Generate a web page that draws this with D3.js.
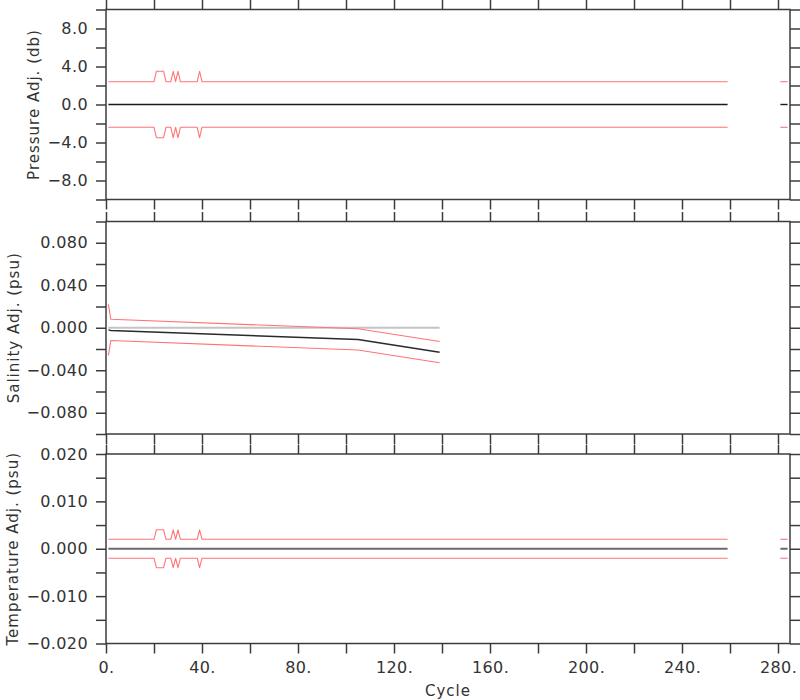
<!DOCTYPE html>
<html>
<head>
<meta charset="utf-8">
<script src="https://cdn.jsdelivr.net/npm/d3@7"></script>
<style>
  body { margin: 0; background: #fff; }
  svg { display: block; }
</style>
</head>
<body>
<svg id="chart" width="800" height="700"></svg>
<script>
// ---------------- DATA ----------------
// Pressure / temperature error envelope breakpoints (cycle numbers)
const errCycles = [1, 20, 21, 24, 25, 27, 28, 29, 30, 31, 38, 39, 40, 259];
const presErrUpper = [2.4, 2.4, 3.5, 3.5, 2.4, 2.4, 3.5, 2.4, 3.5, 2.4, 2.4, 3.5, 2.4, 2.4];
const presErrLower = [-2.4, -2.4, -3.5, -3.5, -2.4, -2.4, -3.5, -2.4, -3.5, -2.4, -2.4, -3.5, -2.4, -2.4];
const adjCycles = [1, 259];
const presAdj = [0, 0];
const tailCycles = [281, 284];
const presTailAdj = [0, 0];
const presTailUpper = [2.4, 2.4];
const presTailLower = [-2.4, -2.4];

// Salinity
const salCycles = [1, 2, 105, 139];
const salAdj = [-0.002, -0.0025, -0.011, -0.023];
const salErrUpper = [0.022, 0.008, -0.001, -0.013];
const salErrLower = [-0.026, -0.012, -0.021, -0.033];
const salRefCycles = [1, 139];
const salRef = [0, 0];

// Temperature
const tempErrUpper = [0.002, 0.002, 0.004, 0.004, 0.002, 0.002, 0.004, 0.002, 0.004, 0.002, 0.002, 0.004, 0.002, 0.002];
const tempErrLower = [-0.002, -0.002, -0.004, -0.004, -0.002, -0.002, -0.004, -0.002, -0.004, -0.002, -0.002, -0.004, -0.002, -0.002];
const tempAdj = [0, 0];
const tempTailAdj = [0, 0];
const tempTailUpper = [0.002, 0.002];
const tempTailLower = [-0.002, -0.002];

// Axis ticks / labels
const xDomain = [0, 285];
const xTicks = [0, 20, 40, 60, 80, 100, 120, 140, 160, 180, 200, 220, 240, 260, 280];
const xLabelTicks = [0, 40, 80, 120, 160, 200, 240, 280];
const xTitle = "Cycle";

const presTicks = [-10, -8, -6, -4, -2, 0, 2, 4, 6, 8, 10];
const presLabelTicks = [-8, -4, 0, 4, 8];
const salTicks = [-0.1, -0.08, -0.06, -0.04, -0.02, 0, 0.02, 0.04, 0.06, 0.08, 0.1];
const salLabelTicks = [-0.08, -0.04, 0, 0.04, 0.08];
const tempTicks = [-0.02, -0.015, -0.01, -0.005, 0, 0.005, 0.01, 0.015, 0.02];
const tempLabelTicks = [-0.02, -0.01, 0, 0.01, 0.02];

// ---------------- DRAWING ----------------
const svg = d3.select("#chart");
const FONT = "DejaVu Sans, sans-serif";
const FRAME = "#3c3c3c";
const RED = "#ff7373";

const x = d3.scaleLinear().domain(xDomain).range([106, 790]);

const panels = [
  { top: 9.5, bottom: 199.5, domain: [-10, 10], ticks: presTicks, labels: presLabelTicks,
    fmt: d => (d < 0 ? "\u2212" : "") + Math.abs(d).toFixed(1),
    title: "Pressure Adj. (db)", titleX: 39, showX: false },
  { top: 221.5, bottom: 434, domain: [-0.1, 0.1], ticks: salTicks, labels: salLabelTicks,
    fmt: d => (d < -1e-9 ? "\u2212" : "") + Math.abs(d).toFixed(3),
    title: "Salinity Adj. (psu)", titleX: 19, showX: false },
  { top: 454, bottom: 643.5, domain: [-0.02, 0.02], ticks: tempTicks, labels: tempLabelTicks,
    fmt: d => (d < -1e-9 ? "\u2212" : "") + Math.abs(d).toFixed(3),
    title: "Temperature Adj. (psu)", titleX: 18, showX: true }
];

function isLabel(list, d) { return list.some(v => Math.abs(v - d) < 1e-9); }

panels.forEach(p => {
  p.y = d3.scaleLinear().domain(p.domain).range([p.bottom, p.top]);
  const g = svg.append("g");

  const left = g.append("g").attr("transform", `translate(${x.range()[0]},0)`)
    .call(d3.axisLeft(p.y).tickValues(p.ticks).tickSize(10).tickPadding(8)
      .tickFormat(d => isLabel(p.labels, d) ? p.fmt(d) : ""));
  const right = g.append("g").attr("transform", `translate(${x.range()[1]},0)`)
    .call(d3.axisRight(p.y).tickValues(p.ticks).tickSize(10).tickFormat(""));
  const topAx = g.append("g").attr("transform", `translate(0,${p.top})`)
    .call(d3.axisTop(x).tickValues(xTicks).tickSize(9.5).tickFormat(""));
  const botAx = g.append("g").attr("transform", `translate(0,${p.bottom})`)
    .call(d3.axisBottom(x).tickValues(xTicks).tickSize(10).tickPadding(8)
      .tickFormat(d => p.showX && isLabel(xLabelTicks, d) ? d + "." : ""));

  [left, right, topAx, botAx].forEach(a => {
    a.select(".domain").remove();
    a.selectAll("line").attr("stroke", FRAME).attr("stroke-width", 1.5);
    a.selectAll("text").attr("fill", "#333").style("font-family", FONT)
      .style("font-size", "16px").style("letter-spacing", "0.4px");
  });

  g.append("rect")
    .attr("x", x.range()[0]).attr("y", p.top)
    .attr("width", x.range()[1] - x.range()[0]).attr("height", p.bottom - p.top)
    .attr("fill", "none").attr("stroke", FRAME).attr("stroke-width", 1.5);

  const cy = (p.top + p.bottom) / 2;
  g.append("text")
    .attr("transform", `translate(${p.titleX},${cy}) rotate(-90)`)
    .attr("text-anchor", "middle")
    .attr("fill", "#333")
    .style("font-family", FONT).style("font-size", "15px").style("letter-spacing", "1px")
    .text(p.title);
});

svg.append("text")
  .attr("x", (x.range()[0] + x.range()[1]) / 2).attr("y", 696)
  .attr("text-anchor", "middle").attr("fill", "#333")
  .style("font-family", FONT).style("font-size", "15px").style("letter-spacing", "1px")
  .text(xTitle);

function drawLine(panel, xs, ys, color, width) {
  const pts = xs.map((c, i) => [c, ys[i]]);
  const line = d3.line().x(d => x(d[0])).y(d => panel.y(d[1]));
  svg.append("path").datum(pts).attr("d", line)
    .attr("fill", "none").attr("stroke", color).attr("stroke-width", width)
    .attr("stroke-linejoin", "round");
}

const P = panels[0], S = panels[1], T = panels[2];
// Pressure
drawLine(P, errCycles, presErrUpper, RED, 1.1);
drawLine(P, errCycles, presErrLower, RED, 1.1);
drawLine(P, adjCycles, presAdj, "#1a1a1a", 1.4);
drawLine(P, tailCycles, presTailUpper, RED, 1.1);
drawLine(P, tailCycles, presTailLower, RED, 1.1);
drawLine(P, tailCycles, presTailAdj, "#1a1a1a", 1.4);

// Salinity
drawLine(S, salRefCycles, salRef, "#c4c4c4", 2);
drawLine(S, salCycles, salErrUpper, RED, 1.1);
drawLine(S, salCycles, salErrLower, RED, 1.1);
drawLine(S, salCycles, salAdj, "#2a2a2a", 1.5);

// Temperature
drawLine(T, errCycles, tempErrUpper, RED, 1.1);
drawLine(T, errCycles, tempErrLower, RED, 1.1);
drawLine(T, adjCycles, tempAdj, "#6a6a6a", 2);
drawLine(T, tailCycles, tempTailUpper, RED, 1.1);
drawLine(T, tailCycles, tempTailLower, RED, 1.1);
drawLine(T, tailCycles, tempTailAdj, "#6a6a6a", 2);
</script>
</body>
</html>
